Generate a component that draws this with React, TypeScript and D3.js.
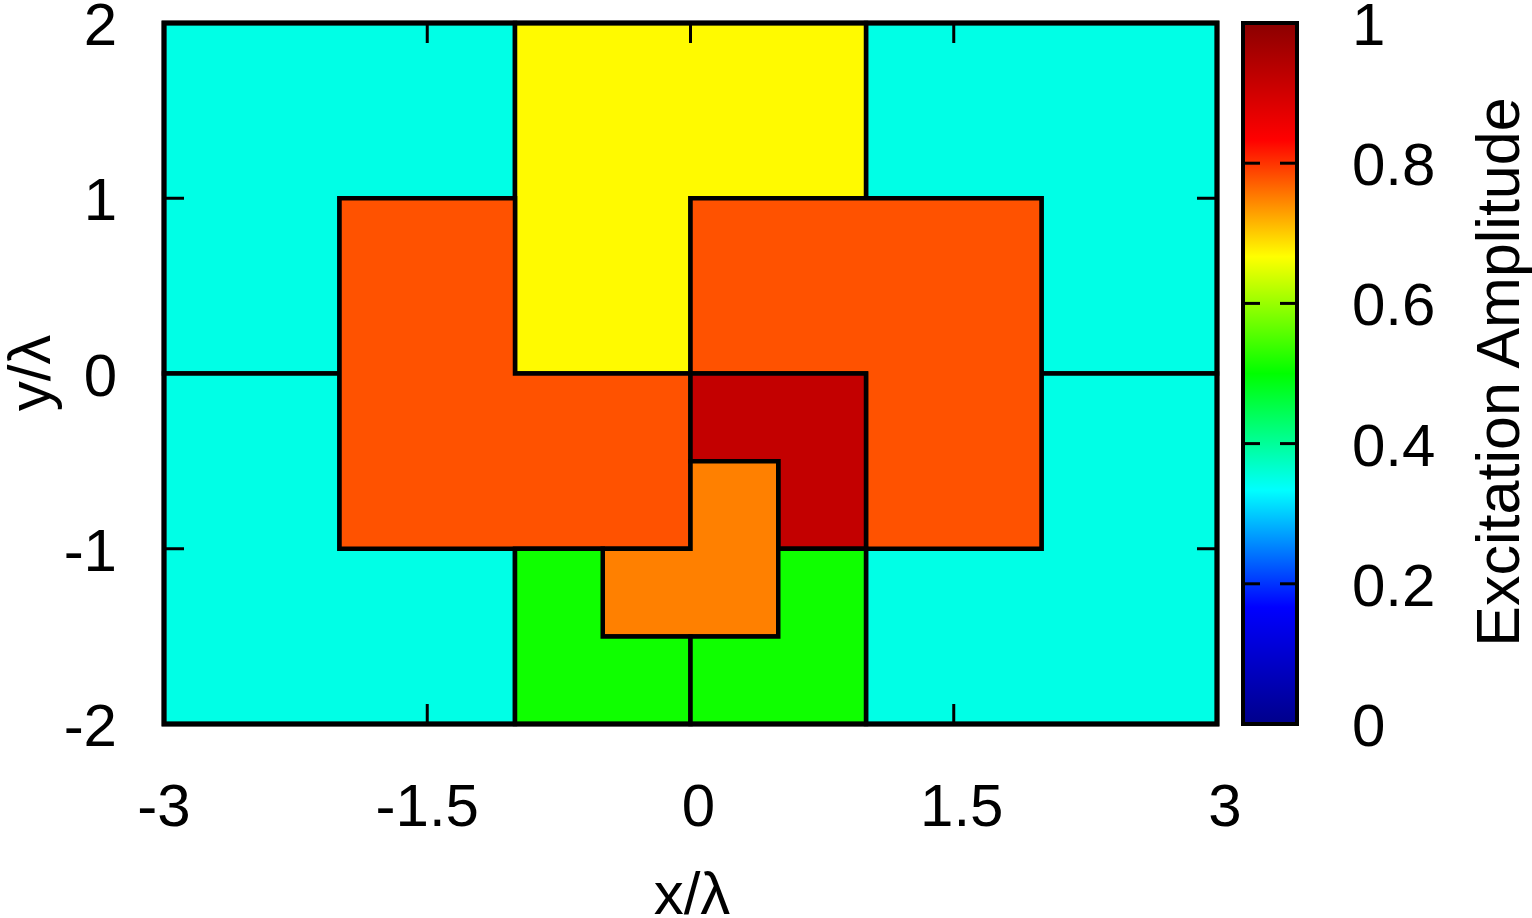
import React, { useRef, useEffect } from 'react';
import * as d3 from 'd3';

// palette stops (jet-like) used for both the cells and the colour box
const paletteStops = [0, 1 / 6, 2 / 6, 3 / 6, 4 / 6, 5 / 6, 1];
const paletteColors = ['#00008b', '#0000ff', '#00ffff', '#00ff00', '#ffff00', '#ff0000', '#8b0000'];

const xTicks = [-3, -1.5, 0, 1.5, 3];
const xTickLabels = ['-3', '-1.5', '0', '1.5', '3'];
const yTicks = [-2, -1, 0, 1, 2];
const yTickLabels = ['-2', '-1', '0', '1', '2'];
const cbTicks = [0, 0.2, 0.4, 0.6, 0.8, 1];
const cbTickLabels = ['0', '0.2', '0.4', '0.6', '0.8', '1'];

// cell outlines in x/λ, y/λ and their excitation amplitude
const cellNames = ['cyanTL', 'cyanBL', 'cyanTR', 'cyanBR', 'yellow', 'leftL', 'rightL', 'core', 'innerL', 'greenL', 'greenR'];
const cellValues = [0.35, 0.35, 0.35, 0.35, 0.67, 0.78, 0.78, 0.92, 0.75, 0.51, 0.51];
const cellShapes: [number, number][][] = [
  [[-3, 2], [-1, 2], [-1, 1], [-2, 1], [-2, 0], [-3, 0]],
  [[-3, 0], [-2, 0], [-2, -1], [-1, -1], [-1, -2], [-3, -2]],
  [[1, 2], [3, 2], [3, 0], [2, 0], [2, 1], [1, 1]],
  [[2, 0], [3, 0], [3, -2], [1, -2], [1, -1], [2, -1]],
  [[-1, 2], [1, 2], [1, 1], [0, 1], [0, 0], [-1, 0]],
  [[-2, 1], [-1, 1], [-1, 0], [0, 0], [0, -1], [-2, -1]],
  [[0, 1], [2, 1], [2, -1], [1, -1], [1, 0], [0, 0]],
  [[0, 0], [1, 0], [1, -1], [0.5, -1], [0.5, -0.5], [0, -0.5]],
  [[0, -0.5], [0.5, -0.5], [0.5, -1.5], [-0.5, -1.5], [-0.5, -1], [0, -1]],
  [[-1, -1], [-0.5, -1], [-0.5, -1.5], [0, -1.5], [0, -2], [-1, -2]],
  [[0, -1.5], [0.5, -1.5], [0.5, -1], [1, -1], [1, -2], [0, -2]],
];

const W = 1532;
const H = 918;
const FONT = '"Liberation Sans", Arial, Helvetica, sans-serif';

function App() {
  const svgRef = useRef<SVGSVGElement>(null);

  useEffect(() => {
    const svg = d3.select(svgRef.current);
    svg.selectAll('*').remove();

    const left = 164, right = 1217, top = 23, bottom = 724;
    const x = d3.scaleLinear().domain([-3, 3]).range([left, right]);
    const y = d3.scaleLinear().domain([-2, 2]).range([bottom, top]);
    const color = d3.scaleLinear<string>().domain(paletteStops).range(paletteColors).interpolate(d3.interpolateRgb);

    const line = d3.line<[number, number]>().x((d) => x(d[0])).y((d) => y(d[1]));

    // cells
    svg.append('g')
      .selectAll('path')
      .data(cellShapes.map((s, i) => ({ name: cellNames[i], shape: s, v: cellValues[i] })))
      .join('path')
      .attr('d', (d) => line(d.shape) + 'Z')
      .attr('fill', (d) => color(d.v))
      .attr('stroke', '#000')
      .attr('stroke-width', 4.5)
      .attr('stroke-linejoin', 'miter');

    // ticks (mirrored, inward)
    const tl = 20;
    const tg = svg.append('g').attr('stroke', '#000').attr('stroke-width', 3);
    xTicks.forEach((t) => {
      tg.append('line').attr('x1', x(t)).attr('x2', x(t)).attr('y1', bottom).attr('y2', bottom - tl);
      tg.append('line').attr('x1', x(t)).attr('x2', x(t)).attr('y1', top).attr('y2', top + tl);
    });
    yTicks.forEach((t) => {
      tg.append('line').attr('x1', left).attr('x2', left + tl).attr('y1', y(t)).attr('y2', y(t));
      tg.append('line').attr('x1', right).attr('x2', right - tl).attr('y1', y(t)).attr('y2', y(t));
    });

    // frame
    svg.append('rect')
      .attr('x', left).attr('y', top)
      .attr('width', right - left).attr('height', bottom - top)
      .attr('fill', 'none').attr('stroke', '#000').attr('stroke-width', 5);

    const labels = svg.append('g').attr('font-family', FONT).attr('font-size', 60).attr('fill', '#000');
    xTicks.forEach((t, i) => {
      const lab = xTickLabels[i];
      labels.append('text')
        .attr('x', x(t))
        .attr('dx', lab.startsWith('-') ? 0 : 8)
        .attr('y', 826)
        .attr('text-anchor', 'middle')
        .text(lab);
    });
    yTicks.forEach((t, i) => {
      labels.append('text').attr('x', 117).attr('y', y(t) + 22).attr('text-anchor', 'end').text(yTickLabels[i]);
    });
    labels.append('text').attr('x', 692).attr('y', 914).attr('text-anchor', 'middle').text('x/λ');
    labels.append('text')
      .attr('transform', `translate(50,373) rotate(-90)`)
      .attr('text-anchor', 'middle').text('y/λ');

    // colour box
    const cbL = 1243, cbR = 1297;
    const cy = d3.scaleLinear().domain([0, 1]).range([bottom, top]);
    const grad = svg.append('defs').append('linearGradient')
      .attr('id', 'cbgrad').attr('x1', 0).attr('x2', 0).attr('y1', 1).attr('y2', 0);
    paletteStops.forEach((s, i) => {
      grad.append('stop').attr('offset', s).attr('stop-color', paletteColors[i]);
    });
    svg.append('rect')
      .attr('x', cbL).attr('y', top).attr('width', cbR - cbL).attr('height', bottom - top)
      .attr('fill', 'url(#cbgrad)');
    const cg = svg.append('g').attr('stroke', '#000').attr('stroke-width', 3);
    cbTicks.forEach((t) => {
      cg.append('line').attr('x1', cbL).attr('x2', cbL + 17).attr('y1', cy(t)).attr('y2', cy(t));
      cg.append('line').attr('x1', cbR).attr('x2', cbR - 17).attr('y1', cy(t)).attr('y2', cy(t));
    });
    svg.append('rect')
      .attr('x', cbL).attr('y', top).attr('width', cbR - cbL).attr('height', bottom - top)
      .attr('fill', 'none').attr('stroke', '#000').attr('stroke-width', 4);
    cbTicks.forEach((t, i) => {
      labels.append('text').attr('x', 1352).attr('y', cy(t) + 22).attr('text-anchor', 'start').text(cbTickLabels[i]);
    });
    labels.append('text')
      .attr('font-size', 61)
      .attr('transform', `translate(1519,372) rotate(-90)`)
      .attr('text-anchor', 'middle').text('Excitation Amplitude');
  }, []);

  return (
    <svg
      ref={svgRef}
      width={W}
      height={H}
      xmlns="http://www.w3.org/2000/svg"
      style={{ position: 'absolute', left: 0, top: 0, background: '#fff' }}
    />
  );
}

export default App;
